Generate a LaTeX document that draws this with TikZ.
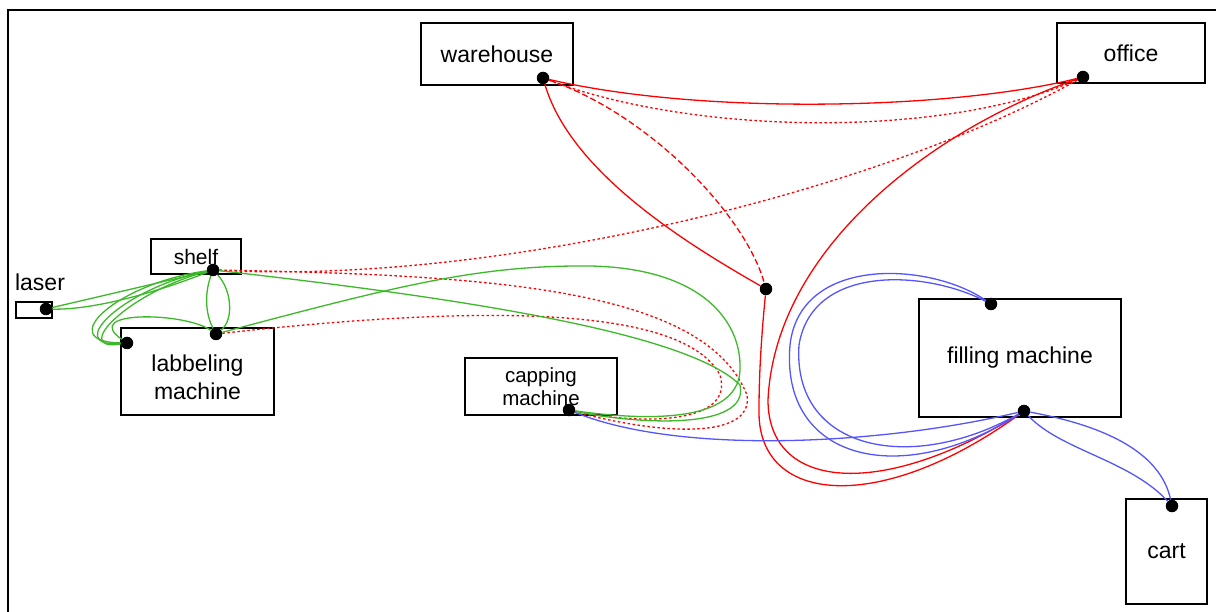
\documentclass[tikz,border=0pt]{standalone}
\usepackage{fontspec}
\setmainfont{Liberation Sans}
\definecolor{lnred}{RGB}{255,0,0}
\definecolor{lngreen}{RGB}{60,185,40}
\definecolor{lnblue}{RGB}{85,85,255}
\tikzset{
  box/.style={draw=black, line width=2.4pt, fill=white, inner sep=0pt, align=center, font=\fontsize{23}{28}\selectfont},
  caption/.style={inner sep=0pt, align=center, font=\fontsize{23}{28}\selectfont},
  dot/.style={circle, fill=black, inner sep=0pt, minimum size=12.5pt},
  wire/.style={line width=1.3pt},
  redline/.style={wire, draw=lnred},
  reddot/.style={wire, draw=lnred, dash pattern=on 2.5pt off 2.5pt},
  reddash/.style={wire, draw=lnred, dash pattern=on 6pt off 3pt},
  greenline/.style={wire, draw=lngreen},
  blueline/.style={wire, draw=lnblue},
}
\begin{document}
\begin{tikzpicture}[x=1pt,y=-1pt]
\useasboundingbox (0,0) rectangle (1216,612);
% frame edges
\draw[line width=1.8pt] (8,612) -- (8,10) -- (1216,10);

% stations
\node[box, minimum width=152pt, minimum height=62pt] (warehouse) at (497,54) {warehouse};
\node[box, minimum width=148pt, minimum height=60pt] (office) at (1131,53) {office};
\node[box, minimum width=90pt, minimum height=35pt, font=\fontsize{21}{25}\selectfont] (shelf) at (196,256.5) {shelf};
\node[box, minimum width=36pt, minimum height=16pt] (laser) at (34,310) {};
\node[caption] (laserlbl) at (40,282) {laser};
\node[box, minimum width=153pt, minimum height=87pt] (label) at (197.5,371.5) {};
\node[caption] (labeltext) at (197.5,377) {labbeling\\machine};
\node[box, minimum width=152pt, minimum height=57pt, font=\fontsize{20.5}{23.5}\selectfont] (capping) at (541,386.5) {capping\\machine};
\node[box, minimum width=202pt, minimum height=118pt] (filling) at (1020,358) {filling machine};
\node[box, minimum width=81pt, minimum height=105pt] (cart) at (1166.5,551.5) {cart};

% connection points
\node[dot] (wd) at (543,78) {};
\node[dot] (od) at (1083,77) {};
\node[dot] (sd) at (213,270) {};
\node[dot] (lad) at (46,309) {};
\node[dot] (ltop) at (216,334) {};
\node[dot] (lleft) at (127,343) {};
\node[dot] (cd) at (569,410) {};
\node[dot] (jd) at (766,289) {};
\node[dot] (ftop) at (991,304) {};
\node[dot] (fbot) at (1024,411) {};
\node[dot] (ctop) at (1172,506) {};

% red links
\draw[redline] (wd) .. controls (700,115) and (950,110) .. (od);
\draw[reddot] (wd) .. controls (700,137) and (950,137) .. (od);
\draw[reddot] (od) .. controls (880,190) and (500,285) .. (sd);
\draw[redline] (wd) .. controls (570,170) and (680,240) .. (jd);
\draw[reddash] (wd) .. controls (650,115) and (745,215) .. (jd);
\draw[redline] (jd) .. controls (762,330) and (759,370) .. (759,410)
  .. controls (757,505) and (880,515) .. (fbot);
\draw[redline] (od) .. controls (930,130) and (775,250) .. (768,400)
  .. controls (768,490) and (880,500) .. (fbot);
\draw[reddot] (sd) .. controls (500,275) and (705,290) .. (747,395)
  .. controls (754,440) and (660,435) .. (cd);
\draw[reddot] (ltop) .. controls (450,308) and (680,300) .. (720,375)
  .. controls (735,425) and (640,425) .. (cd);

% green links
\draw[greenline] (ltop) .. controls (400,285) and (480,265) .. (590,266)
  .. controls (700,268) and (742,320) .. (740,370)
  .. controls (738,425) and (640,420) .. (cd);
\draw[greenline] (sd) .. controls (480,300) and (690,335) .. (740,385)
  .. controls (750,430) and (640,425) .. (cd);
\draw[greenline] (sd) -- (lad);
\draw[greenline] (sd) .. controls (150,295) and (90,310) .. (lad);
\draw[greenline] (sd) .. controls (118,283) and (52,342) .. (lleft);
\draw[greenline] (sd) .. controls (123,288) and (62,348) .. (lleft);
\draw[greenline] (sd) .. controls (128,292) and (70,352) .. (lleft);
\draw[greenline] (ltop) .. controls (185,312) and (80,310) .. (lleft);
\draw[greenline] (sd) .. controls (204,295) and (206,315) .. (ltop);
\draw[greenline] (sd) .. controls (232,290) and (234,320) .. (ltop);

% blue links
\draw[blueline] (cd) .. controls (680,455) and (880,445) .. (fbot);
\draw[blueline] (ftop) .. controls (930,262) and (800,255) .. (790,345)
  .. controls (780,460) and (900,490) .. (fbot);
\draw[blueline] (ftop) .. controls (925,270) and (812,264) .. (799,345)
  .. controls (792,450) and (910,475) .. (fbot);
\draw[blueline] (fbot) .. controls (1100,425) and (1160,450) .. (ctop);
\draw[blueline] (fbot) .. controls (1060,450) and (1130,460) .. (ctop);
\end{tikzpicture}
\end{document}
